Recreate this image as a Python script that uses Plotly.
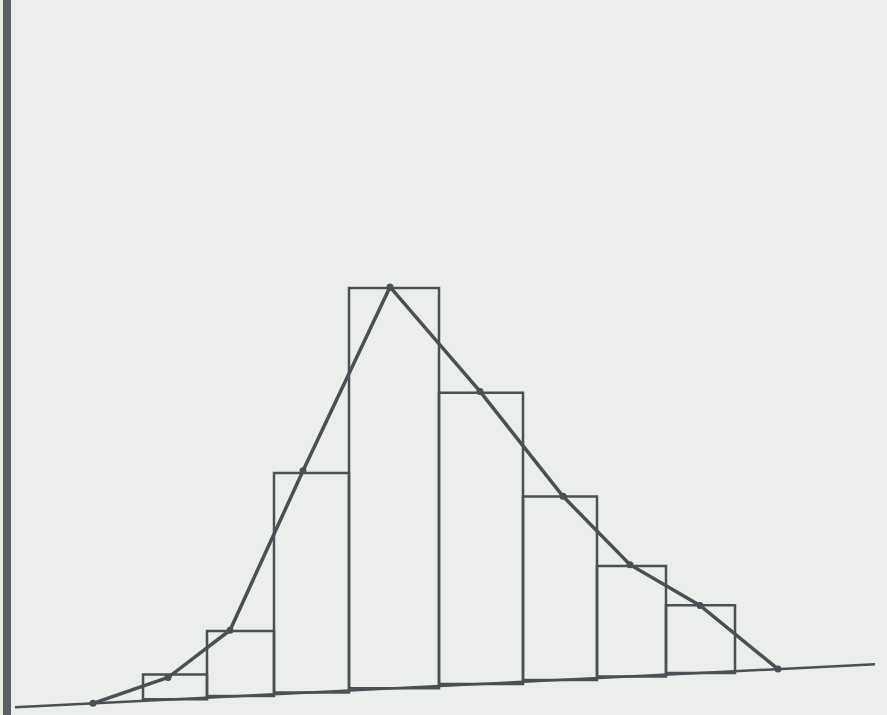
import plotly.graph_objects as go

# Class boundaries (horizontal units of the drawing)
class_edges = [143, 207, 274, 349, 439, 523, 597, 666, 735]
# Frequencies (bar heights above the baseline)
frequencies = [1.8, 4.7, 15.9, 29.0, 21.1, 13.3, 8.0, 4.9]

# Frequency polygon vertices: hand-drawn x positions and heights
polygon_x = [93, 168, 230, 303, 390, 480, 563, 630, 700, 778]
polygon_freq = [0, 1.6, 4.8, 16.1, 29.1, 21.2, 13.3, 8.1, 4.9, 0]

# the scanned page is slightly skewed: baseline rises to the right
skew = 0.05 / 13.8


def base_at(x):
    return (x - 20) * skew


centers = [(a + b) / 2 for a, b in zip(class_edges[:-1], class_edges[1:])]
widths = [b - a for a, b in zip(class_edges[:-1], class_edges[1:])]
bases = [base_at(c) for c in centers]

ink = "#4c5054"
paper = "#eceeec"

fig = go.Figure()

fig.add_trace(go.Bar(
    x=centers, y=frequencies, width=widths, base=bases,
    marker=dict(color="rgba(0,0,0,0)", line=dict(color=ink, width=2.5)),
    hoverinfo="skip",
))

# baseline
fig.add_trace(go.Scatter(
    x=[15, 875], y=[base_at(15), base_at(875)], mode="lines",
    line=dict(color=ink, width=2.5), hoverinfo="skip",
))

# frequency polygon
fig.add_trace(go.Scatter(
    x=polygon_x, y=[f + base_at(x) for x, f in zip(polygon_x, polygon_freq)],
    mode="lines+markers",
    line=dict(color=ink, width=3.5),
    marker=dict(color=ink, size=7),
    hoverinfo="skip",
))

# vertical axis
fig.add_shape(type="line", xref="x", yref="paper", x0=7, x1=7, y0=0, y1=1,
              line=dict(color="#5a5f63", width=8))

fig.update_layout(
    width=887, height=715,
    margin=dict(l=0, r=0, t=0, b=0),
    paper_bgcolor=paper, plot_bgcolor=paper,
    showlegend=False,
    xaxis=dict(range=[0, 887], visible=False),
    yaxis=dict(range=[-8 / 13.8, 707 / 13.8], visible=False),
)

fig.write_html(
    "out.html",
    config={"staticPlot": True},
    post_script="document.body.style.margin='0';"
                f"document.body.style.background='{paper}';",
)
